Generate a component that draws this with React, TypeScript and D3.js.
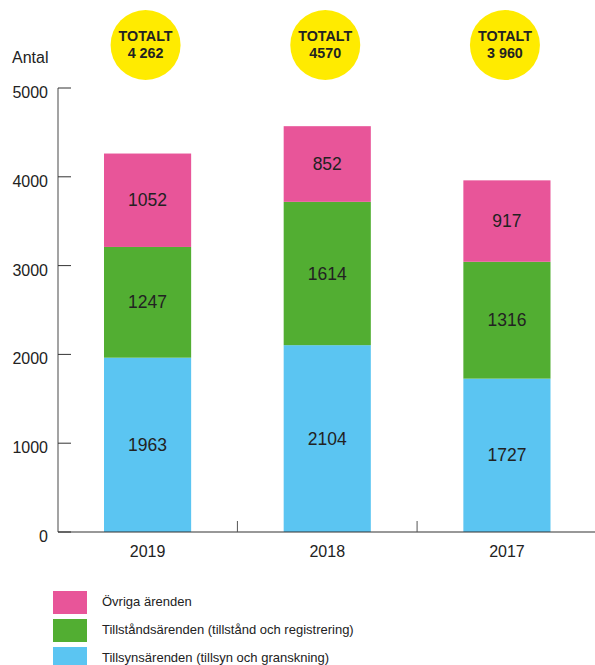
import * as d3 from 'd3';

const years = ['2019', '2018', '2017'];
const tillsyn = [1963, 2104, 1727];
const tillstand = [1247, 1614, 1316];
const ovriga = [1052, 852, 917];
const totalLabels = ['4 262', '4570', '3 960'];
const yTicks = [0, 1000, 2000, 3000, 4000, 5000];

const seriesNames = [
  'Tillsynsärenden (tillsyn och granskning)',
  'Tillståndsärenden (tillstånd och registrering)',
  'Övriga ärenden',
];
const seriesColors = ['#5bc5f2', '#52ae32', '#e85599'];

const width = 595;
const height = 665;
const font = '"Liberation Sans", Arial, Helvetica, sans-serif';

export default function App() {
  const x = d3.scaleBand<string>()
    .domain(years)
    .range([58, 596.5])
    .paddingInner(0.515)
    .paddingOuter(0.256);

  const y = d3.scaleLinear().domain([0, 5000]).range([532, 88]);

  const rows = years.map((year, i) => ({
    year,
    tillsyn: tillsyn[i],
    tillstand: tillstand[i],
    ovriga: ovriga[i],
  }));
  const keys = ['tillsyn', 'tillstand', 'ovriga'];
  const stacked = d3.stack<any>().keys(keys)(rows);

  const bw = x.bandwidth();
  const step = x.step();

  return (
    <svg
      width={width}
      height={height}
      style={{ position: 'absolute', left: 0, top: 0, fontFamily: font }}
    >
      <rect width={width} height={height} fill="#fff" />

      {/* y axis */}
      <text x={12} y={63} fontSize={16} fill="#222">Antal</text>
      <line x1={58} x2={58} y1={y(5000)} y2={y(0)} stroke="#666" strokeWidth={1.2} />
      {yTicks.map(t => (
        <g key={t}>
          <line x1={58} x2={71} y1={y(t)} y2={y(t)} stroke="#333" strokeWidth={1} />
          <text x={48} y={y(t) + 10} fontSize={16} textAnchor="end" fill="#222">{t}</text>
        </g>
      ))}

      {/* bars */}
      {stacked.map((s, si) => (
        <g key={s.key} fill={seriesColors[si]}>
          {s.map((d, i) => (
            <g key={i}>
              <rect
                x={x(years[i])}
                y={y(d[1])}
                width={bw}
                height={y(d[0]) - y(d[1])}
              />
              <text
                x={(x(years[i]) as number) + bw / 2}
                y={(y(d[0]) + y(d[1])) / 2 + 6}
                fontSize={17.5}
                textAnchor="middle"
                fill="#222"
              >
                {d[1] - d[0]}
              </text>
            </g>
          ))}
        </g>
      ))}

      {/* x axis */}
      <line x1={58} x2={width} y1={y(0)} y2={y(0)} stroke="#333" strokeWidth={1.2} />
      {years.slice(1).map(yr => {
        const xx = (x(yr) as number) - (step - bw) / 2;
        return <line key={yr} x1={xx} x2={xx} y1={y(0)} y2={y(0) - 11} stroke="#555" strokeWidth={1} />;
      })}
      {years.map(yr => (
        <text key={yr} x={(x(yr) as number) + bw / 2} y={557} fontSize={16} textAnchor="middle" fill="#222">
          {yr}
        </text>
      ))}

      {/* total circles */}
      {years.map((yr, i) => {
        const cx = (x(yr) as number) + bw / 2 - 2;
        return (
          <g key={yr}>
            <circle cx={cx} cy={45} r={35} fill="#ffeb00" />
            <text x={cx} y={41} fontSize={14.3} fontWeight="bold" textAnchor="middle" fill="#222">TOTALT</text>
            <text x={cx} y={58} fontSize={14.3} fontWeight="bold" textAnchor="middle" fill="#222">{totalLabels[i]}</text>
          </g>
        );
      })}

      {/* legend */}
      {[2, 1, 0].map((si, j) => (
        <g key={si}>
          <rect x={53} y={591 + j * 28} width={34} height={23} fill={seriesColors[si]} />
          <text x={102} y={606 + j * 28} fontSize={13} fill="#222">{seriesNames[si]}</text>
        </g>
      ))}
    </svg>
  );
}
